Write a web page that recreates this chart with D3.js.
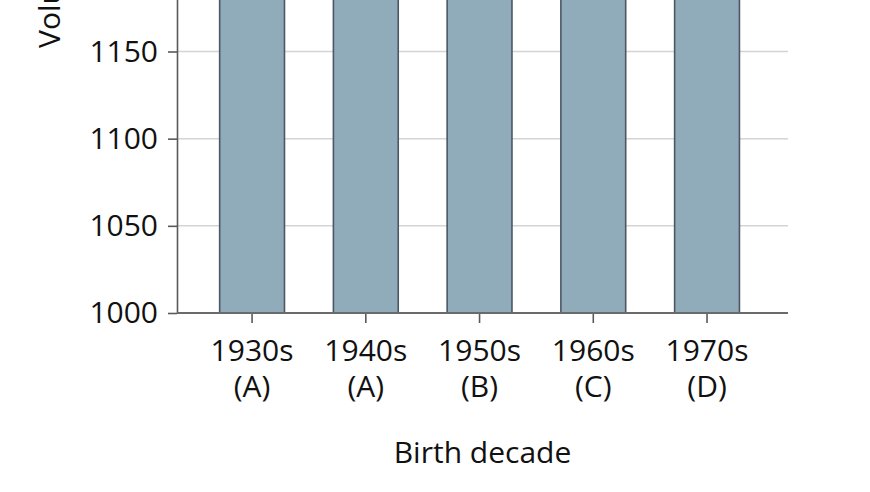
<!DOCTYPE html>
<html>
<head>
<meta charset="utf-8">
<script src="https://cdn.jsdelivr.net/npm/d3@7"></script>
<style>
  html, body { margin: 0; padding: 0; background: #fff; }
  svg { display: block; }
  text { font-family: "Open Sans", "Noto Sans", sans-serif; fill: #111; }
</style>
</head>
<body>
<svg id="chart" width="870" height="492"></svg>
<script>
// Data (bars extend beyond the visible top; values estimated)
const categories = ["1930s", "1940s", "1950s", "1960s", "1970s"];
const groupLabels = ["(A)", "(A)", "(B)", "(C)", "(D)"];
const values = [1234, 1244, 1260, 1283, 1321];
const yTicks = [1000, 1050, 1100, 1150];
const xTitle = "Birth decade";
const yTitle = "Volume, mL";

const svg = d3.select("#chart");

const plotLeft = 177, plotRight = 788, baseY = 313;

const x = d3.scaleBand()
  .domain(categories)
  .range([195.2, 763.9])
  .paddingInner(0.43)
  .paddingOuter(0.215);

const y = d3.scaleLinear()
  .domain([1000, 1350])
  .range([baseY, baseY - 350 * (261.5 / 150)]);

// gridlines
svg.append("g")
  .selectAll("line")
  .data(yTicks.filter(d => d > 1000))
  .join("line")
  .attr("x1", plotLeft).attr("x2", plotRight)
  .attr("y1", d => y(d)).attr("y2", d => y(d))
  .attr("stroke", "#d4d4d4")
  .attr("stroke-width", 1.5);

// bars
svg.append("g")
  .selectAll("rect")
  .data(categories)
  .join("rect")
  .attr("x", d => x(d))
  .attr("width", x.bandwidth())
  .attr("y", (d, i) => y(values[i]))
  .attr("height", (d, i) => y(1000) - y(values[i]))
  .attr("fill", "#90abba")
  .attr("stroke", "#4b5864")
  .attr("stroke-width", 1.6);

// y axis
const yAxis = d3.axisLeft(y)
  .tickValues(yTicks)
  .tickSize(9)
  .tickSizeOuter(0)
  .tickPadding(10)
  .tickFormat(d3.format("d"));
const gy = svg.append("g")
  .attr("transform", `translate(${plotLeft},0)`)
  .call(yAxis);
gy.select(".domain").attr("stroke", "#5a5a5a").attr("stroke-width", 1.6);
gy.selectAll(".tick line").attr("stroke", "#5a5a5a").attr("stroke-width", 1.6);
gy.selectAll(".tick text")
  .attr("font-size", 30)
  .attr("font-family", "'Open Sans', sans-serif")
  .attr("fill", "#111");

// x axis
const xAxis = d3.axisBottom(x).tickSize(10).tickSizeOuter(0).tickFormat(() => "");
const gx = svg.append("g")
  .attr("transform", `translate(0,${baseY})`)
  .call(xAxis);
gx.select(".domain").remove();
gx.selectAll(".tick line").attr("stroke", "#5a5a5a").attr("stroke-width", 1.6);

// baseline
svg.append("line")
  .attr("x1", plotLeft).attr("x2", plotRight)
  .attr("y1", baseY).attr("y2", baseY)
  .attr("stroke", "#6a6a6a")
  .attr("stroke-width", 2);

// x tick labels (two lines)
const cx = d => x(d) + x.bandwidth() / 2;
svg.append("g")
  .selectAll("text")
  .data(categories)
  .join("text")
  .attr("x", cx)
  .attr("y", 361)
  .attr("text-anchor", "middle")
  .attr("font-size", 30)
  .text(d => d);
svg.append("g")
  .selectAll("text")
  .data(categories)
  .join("text")
  .attr("x", cx)
  .attr("y", 397)
  .attr("text-anchor", "middle")
  .attr("font-size", 30)
  .text((d, i) => groupLabels[i]);

// x title
svg.append("text")
  .attr("x", (plotLeft + plotRight) / 2)
  .attr("y", 463)
  .attr("text-anchor", "middle")
  .attr("font-size", 30)
  .text(xTitle);

// y title
svg.append("text")
  .attr("transform", "translate(60,48) rotate(-90)")
  .attr("text-anchor", "start")
  .attr("font-size", 30)
  .text(yTitle);
</script>
</body>
</html>
